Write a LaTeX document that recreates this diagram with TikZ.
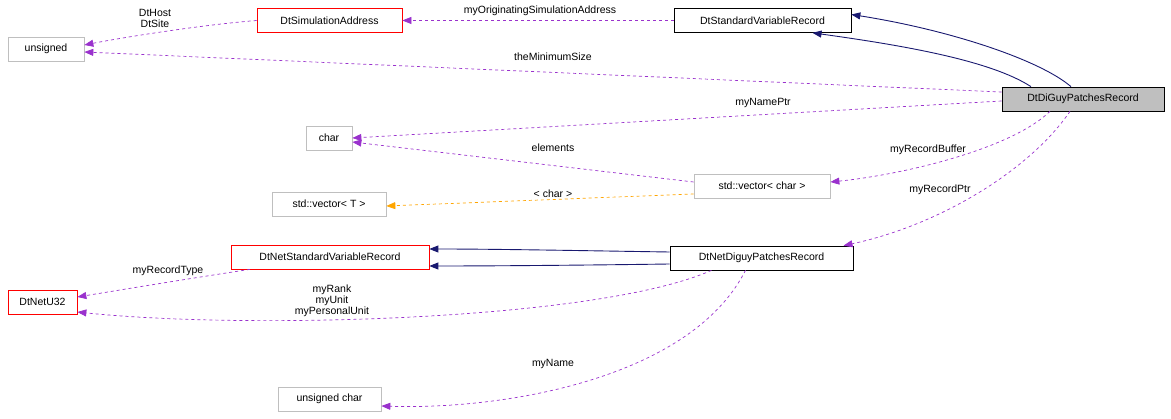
\documentclass[tikz,border=0pt]{standalone}
\usepackage{fontspec}
\setmainfont{Liberation Sans}
\usetikzlibrary{arrows.meta}
\definecolor{purp}{HTML}{9A32CD}
\definecolor{nav}{HTML}{191970}
\definecolor{org}{HTML}{FFA500}
\definecolor{gbox}{HTML}{BFBFBF}
\begin{document}
\begin{tikzpicture}[x=1pt,y=-1pt,
  box/.style={draw,minimum height=24pt,inner sep=0pt,font=\fontsize{10.5}{11}\selectfont,line width=0.7pt},
  bk/.style={box,draw=black},
  rd/.style={box,draw=red},
  gy/.style={box,draw=gbox},
  dep/.style={purp,dashed,line width=0.7pt,-{Triangle[length=9pt,width=7pt]}},
  inh/.style={nav,line width=0.9pt,-{Triangle[length=9pt,width=7pt]}},
  tpl/.style={org,dashed,line width=0.7pt,-{Triangle[length=9pt,width=7pt]}},
  lbl/.style={font=\fontsize{10.5}{11}\selectfont,align=center,inner sep=0pt}]
\useasboundingbox (0,0) rectangle (1171,419);
\node[gy,minimum width=76pt] (uns) at (46,49) {unsigned};
\node[rd,minimum width=145pt] (sim) at (329.5,20.5) {DtSimulationAddress};
\node[bk,minimum width=177pt] (svr) at (762.5,20.5) {DtStandardVariableRecord};
\node[bk,fill=gbox,minimum width=162pt] (dgp) at (1083,99) {DtDiGuyPatchesRecord};
\node[gy,minimum width=46pt] (chr) at (329,138) {char};
\node[gy,minimum width=114pt] (vt) at (329,204) {std::vector< T >};
\node[gy,minimum width=136pt] (vc) at (762,186) {std::vector< char >};
\node[rd,minimum width=198pt] (nsv) at (330,257) {DtNetStandardVariableRecord};
\node[bk,minimum width=183pt] (ndp) at (761.5,258) {DtNetDiguyPatchesRecord};
\node[rd,minimum width=69pt] (u32) at (42.5,302) {DtNetU32};
\node[gy,minimum width=103pt] (uc) at (329.5,399) {unsigned char};

\draw[dep] (sim.west) .. controls (200,25) and (120,38) .. ([yshift=4pt]uns.east);
\node[lbl] at (155,18) {DtHost\\DtSite};
\draw[dep] (svr.west) -- (sim.east);
\node[lbl] at (540,11) {myOriginatingSimulationAddress};
\draw[inh] ([xshift=-12pt]dgp.north) .. controls (1040,60) and (950,30) .. ([yshift=6pt]svr.east);
\draw[inh] ([xshift=-52pt]dgp.north) .. controls (990,60) and (900,45) .. ([xshift=50pt]svr.south);
\draw[dep] ([yshift=7pt]dgp.west) -- ([yshift=-3pt]uns.east);
\node[lbl] at (553,57) {theMinimumSize};
\draw[dep] ([yshift=-2pt]dgp.west) -- (chr.east);
\node[lbl] at (763,103) {myNamePtr};
\draw[dep] ([yshift=4pt]vc.west) -- ([yshift=-4pt]chr.east);
\node[lbl] at (553,148) {elements};
\draw[tpl] ([yshift=-8pt]vc.west) -- ([yshift=-2pt]vt.east);
\node[lbl] at (553,194) {< char >};
\draw[dep] ([xshift=-33pt]dgp.south) .. controls (1010,150) and (900,175) .. ([yshift=4pt]vc.east);
\node[lbl] at (928,150) {myRecordBuffer};
\draw[dep] ([xshift=-13pt]dgp.south) .. controls (1030,170) and (940,225) .. ([xshift=82pt]ndp.north);
\node[lbl] at (940,190) {myRecordPtr};
\draw[inh] ([yshift=6pt]ndp.west) .. controls (600,251) and (500,249) .. ([yshift=8pt]nsv.east);
\draw[inh] ([yshift=-6pt]ndp.west) .. controls (600,265) and (500,266) .. ([yshift=-9pt]nsv.east);
\draw[dep] ([xshift=-80pt]nsv.south) .. controls (180,280) and (120,290) .. ([yshift=5pt]u32.east);
\node[lbl] at (168,271) {myRecordType};
\draw[dep] ([xshift=-50pt]ndp.south) .. controls (600,320) and (250,330) .. ([yshift=-10pt]u32.east);
\node[lbl] at (332,301) {myRank\\myUnit\\myPersonalUnit};
\draw[dep] ([xshift=-16pt]ndp.south) .. controls (690,380) and (500,410) .. ([yshift=-7pt]uc.east);
\node[lbl] at (553,364) {myName};
\end{tikzpicture}
\end{document}
